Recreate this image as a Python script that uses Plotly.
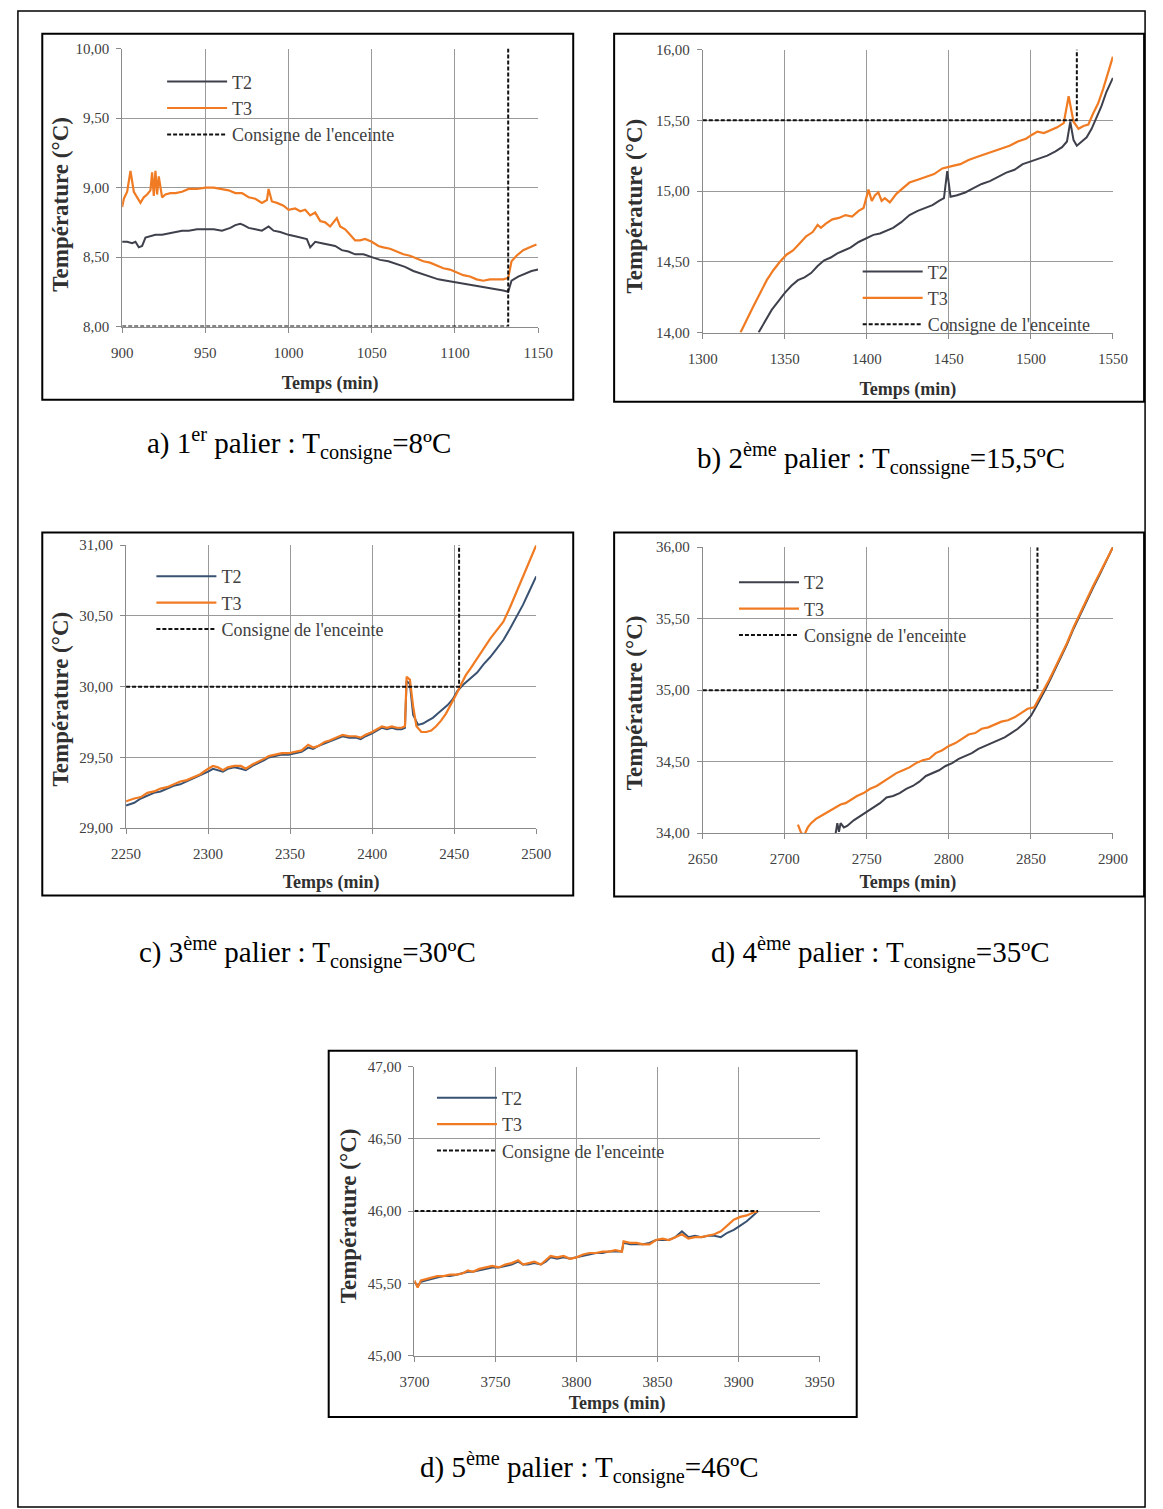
import plotly.graph_objects as go

W, H = 1163, 1509

# ---------------- data ----------------
a_t2_x = [900, 903, 906, 908, 910, 912, 914, 917, 920, 924,
          928, 932, 936, 940, 945, 950, 955, 960, 965, 968,
          971, 973, 976, 980, 984, 988, 991, 995, 1000, 1004,
          1008, 1011, 1013, 1016, 1020, 1024, 1028, 1032, 1036, 1040,
          1045, 1050, 1055, 1060, 1065, 1070, 1075, 1080, 1085, 1090,
          1095, 1100, 1105, 1110, 1115, 1120, 1125, 1129, 1132, 1134,
          1138, 1142, 1146, 1150]
a_t2_y = [8.61, 8.61, 8.60, 8.61, 8.57, 8.58, 8.64, 8.65, 8.66, 8.66,
          8.67, 8.68, 8.69, 8.69, 8.70, 8.70, 8.70, 8.69, 8.71, 8.73,
          8.74, 8.73, 8.71, 8.70, 8.69, 8.72, 8.69, 8.68, 8.66, 8.65,
          8.64, 8.63, 8.57, 8.61, 8.60, 8.59, 8.58, 8.55, 8.54, 8.52,
          8.52, 8.50, 8.48, 8.47, 8.45, 8.43, 8.40, 8.38, 8.36, 8.34,
          8.33, 8.32, 8.31, 8.30, 8.29, 8.28, 8.27, 8.26, 8.25, 8.33,
          8.36, 8.38, 8.40, 8.41]
a_t3_x = [900, 901, 903, 905, 907, 909, 911, 913, 915, 917,
          918, 919, 920, 921, 922, 924, 926, 929, 932, 936,
          940, 945, 950, 955, 960, 964, 968, 972, 976, 980,
          984, 987, 988, 990, 993, 997, 1000, 1004, 1007, 1010,
          1013, 1016, 1019, 1022, 1025, 1027, 1029, 1031, 1034, 1037,
          1040, 1043, 1046, 1050, 1054, 1057, 1061, 1065, 1069, 1073,
          1077, 1081, 1085, 1089, 1093, 1097, 1101, 1105, 1109, 1113,
          1117, 1121, 1125, 1129, 1132, 1134, 1137, 1141, 1145, 1149]
a_t3_y = [8.86, 8.92, 8.97, 9.12, 8.97, 8.93, 8.89, 8.93, 8.95, 8.98,
          9.11, 8.94, 9.12, 8.95, 9.08, 8.93, 8.95, 8.96, 8.96, 8.97,
          8.99, 8.99, 9.00, 9.00, 8.99, 8.98, 8.96, 8.96, 8.93, 8.92,
          8.89, 8.91, 8.99, 8.90, 8.89, 8.87, 8.84, 8.85, 8.83, 8.84,
          8.80, 8.82, 8.76, 8.75, 8.72, 8.75, 8.78, 8.72, 8.70, 8.66,
          8.62, 8.62, 8.63, 8.61, 8.58, 8.57, 8.56, 8.54, 8.52, 8.51,
          8.49, 8.47, 8.46, 8.44, 8.42, 8.41, 8.39, 8.37, 8.36, 8.34,
          8.33, 8.34, 8.34, 8.34, 8.35, 8.47, 8.51, 8.55, 8.57, 8.59]
a_set_x = [900, 1132, 1132]
a_set_y = [8.0, 8.0, 10.0]
a_xticks = [900, 950, 1000, 1050, 1100, 1150]
a_yticks = [8.0, 8.5, 9.0, 9.5, 10.0]
a_ylabels = ["8,00", "8,50", "9,00", "9,50", "10,00"]

b_t2_x = [1334, 1338, 1342, 1346, 1350, 1354, 1358, 1362, 1366, 1370,
          1374, 1378, 1382, 1386, 1390, 1395, 1400, 1404, 1408, 1412,
          1416, 1421, 1426, 1431, 1436, 1440, 1444, 1447, 1449, 1451,
          1455, 1460, 1465, 1470, 1475, 1480, 1485, 1490, 1495, 1500,
          1505, 1510, 1515, 1519, 1522, 1524, 1526, 1528, 1531, 1534,
          1537, 1540, 1543, 1546, 1550]
b_t2_y = [14.00, 14.08, 14.16, 14.22, 14.28, 14.33, 14.37, 14.39, 14.42, 14.47,
          14.51, 14.53, 14.56, 14.58, 14.60, 14.64, 14.67, 14.69, 14.70, 14.72,
          14.74, 14.78, 14.83, 14.86, 14.88, 14.90, 14.93, 14.95, 15.14, 14.96,
          14.97, 14.99, 15.02, 15.05, 15.07, 15.10, 15.13, 15.15, 15.19, 15.21,
          15.23, 15.25, 15.28, 15.31, 15.35, 15.49, 15.36, 15.32, 15.35, 15.38,
          15.44, 15.52, 15.60, 15.70, 15.80]
b_t3_x = [1323, 1327, 1331, 1335, 1339, 1343, 1347, 1351, 1355, 1359,
          1363, 1367, 1370, 1372, 1375, 1379, 1383, 1387, 1391, 1395,
          1398, 1401, 1403, 1405, 1407, 1409, 1411, 1414, 1418, 1422,
          1426, 1431, 1436, 1441, 1446, 1449, 1453, 1457, 1462, 1467,
          1472, 1477, 1482, 1487, 1492, 1497, 1501, 1504, 1508, 1512,
          1516, 1520, 1523, 1526, 1529, 1532, 1535, 1538, 1541, 1544,
          1547, 1550]
b_t3_y = [14.00, 14.10, 14.19, 14.28, 14.37, 14.44, 14.50, 14.55, 14.58, 14.63,
          14.68, 14.71, 14.76, 14.74, 14.77, 14.80, 14.81, 14.83, 14.82, 14.86,
          14.88, 15.01, 14.93, 14.97, 14.99, 14.93, 14.95, 14.92, 14.98, 15.02,
          15.06, 15.08, 15.10, 15.12, 15.16, 15.17, 15.18, 15.19, 15.22, 15.24,
          15.26, 15.28, 15.30, 15.32, 15.35, 15.37, 15.40, 15.42, 15.41, 15.43,
          15.45, 15.48, 15.67, 15.49, 15.44, 15.46, 15.47, 15.55, 15.62, 15.72,
          15.84, 15.95]
b_set_x = [1300, 1528, 1528]
b_set_y = [15.5, 15.5, 16.0]
b_xticks = [1300, 1350, 1400, 1450, 1500, 1550]
b_yticks = [14.0, 14.5, 15.0, 15.5, 16.0]
b_ylabels = ["14,00", "14,50", "15,00", "15,50", "16,00"]

c_t2_x = [2250, 2255, 2259, 2263, 2267, 2271, 2275, 2279, 2283, 2287,
          2291, 2295, 2300, 2303, 2306, 2309, 2312, 2316, 2320, 2323,
          2327, 2331, 2334, 2337, 2341, 2345, 2349, 2353, 2357, 2361,
          2364, 2367, 2371, 2374, 2378, 2382, 2386, 2390, 2393, 2396,
          2400, 2403, 2406, 2409, 2412, 2415, 2418, 2420, 2421, 2423,
          2425, 2428, 2431, 2434, 2437, 2440, 2443, 2446, 2449, 2452,
          2456, 2460, 2464, 2468, 2472, 2476, 2480, 2484, 2488, 2492,
          2496, 2500]
c_t2_y = [29.16, 29.18, 29.21, 29.23, 29.25, 29.26, 29.28, 29.30, 29.31, 29.33,
          29.35, 29.37, 29.40, 29.42, 29.41, 29.40, 29.42, 29.43, 29.42, 29.41,
          29.44, 29.46, 29.48, 29.50, 29.51, 29.52, 29.52, 29.53, 29.54, 29.57,
          29.56, 29.58, 29.60, 29.61, 29.63, 29.65, 29.64, 29.64, 29.63, 29.65,
          29.67, 29.69, 29.71, 29.70, 29.71, 29.70, 29.70, 29.71, 30.04, 30.02,
          29.80, 29.73, 29.74, 29.76, 29.78, 29.81, 29.84, 29.87, 29.91, 29.97,
          30.02, 30.06, 30.10, 30.16, 30.21, 30.27, 30.33, 30.41, 30.49, 30.58,
          30.68, 30.78]
c_t3_x = [2250, 2255, 2259, 2263, 2267, 2271, 2275, 2279, 2283, 2287,
          2291, 2295, 2300, 2303, 2306, 2309, 2312, 2316, 2320, 2323,
          2327, 2331, 2334, 2337, 2341, 2345, 2349, 2353, 2357, 2361,
          2364, 2367, 2371, 2374, 2378, 2382, 2386, 2390, 2393, 2396,
          2400, 2403, 2406, 2409, 2412, 2415, 2418, 2420, 2421, 2423,
          2425, 2427, 2430, 2433, 2436, 2439, 2442, 2445, 2448, 2451,
          2454, 2457, 2460, 2464, 2468, 2472, 2476, 2480, 2484, 2488,
          2492, 2496, 2500]
c_t3_y = [29.19, 29.21, 29.22, 29.25, 29.26, 29.28, 29.29, 29.31, 29.33, 29.34,
          29.36, 29.38, 29.42, 29.44, 29.43, 29.41, 29.43, 29.44, 29.44, 29.42,
          29.45, 29.47, 29.49, 29.51, 29.52, 29.53, 29.53, 29.54, 29.55, 29.59,
          29.57, 29.58, 29.61, 29.62, 29.64, 29.66, 29.65, 29.65, 29.64, 29.66,
          29.68, 29.70, 29.72, 29.71, 29.72, 29.71, 29.71, 29.72, 30.07, 30.05,
          29.86, 29.72, 29.68, 29.68, 29.69, 29.72, 29.76, 29.81, 29.87, 29.94,
          30.01, 30.08, 30.13, 30.20, 30.27, 30.34, 30.40, 30.46, 30.56, 30.67,
          30.78, 30.89, 31.00]
c_set_x = [2250, 2453, 2453]
c_set_y = [30.0, 30.0, 31.0]
c_xticks = [2250, 2300, 2350, 2400, 2450, 2500]
c_yticks = [29.0, 29.5, 30.0, 30.5, 31.0]
c_ylabels = ["29,00", "29,50", "30,00", "30,50", "31,00"]

d_t2_x = [2731, 2732, 2733, 2734, 2736, 2738, 2742, 2746, 2750, 2754,
          2758, 2762, 2766, 2770, 2774, 2778, 2782, 2786, 2790, 2794,
          2798, 2802, 2806, 2810, 2814, 2818, 2822, 2826, 2830, 2834,
          2838, 2842, 2846, 2850, 2853, 2856, 2859, 2862, 2865, 2868,
          2872, 2876, 2880, 2884, 2888, 2892, 2896, 2900]
d_t2_y = [34.00, 34.07, 34.01, 34.07, 34.04, 34.05, 34.09, 34.12, 34.15, 34.18,
          34.21, 34.25, 34.26, 34.28, 34.31, 34.33, 34.36, 34.40, 34.42, 34.44,
          34.47, 34.49, 34.52, 34.54, 34.56, 34.59, 34.61, 34.63, 34.65, 34.67,
          34.70, 34.73, 34.77, 34.82, 34.88, 34.94, 35.01, 35.08, 35.15, 35.22,
          35.32, 35.43, 35.53, 35.63, 35.72, 35.81, 35.90, 36.00]
d_t3_x = [2708, 2710, 2712, 2714, 2716, 2719, 2722, 2725, 2728, 2731,
          2734, 2737, 2740, 2744, 2748, 2752, 2756, 2760, 2764, 2768,
          2772, 2776, 2780, 2784, 2788, 2792, 2796, 2800, 2804, 2808,
          2812, 2816, 2820, 2824, 2828, 2832, 2836, 2840, 2844, 2848,
          2852, 2855, 2858, 2861, 2864, 2868, 2872, 2876, 2880, 2884,
          2888, 2892, 2896, 2900]
d_t3_y = [34.06, 34.00, 33.99, 34.04, 34.07, 34.10, 34.12, 34.14, 34.16, 34.18,
          34.20, 34.21, 34.23, 34.26, 34.28, 34.31, 34.33, 34.36, 34.39, 34.42,
          34.44, 34.46, 34.49, 34.51, 34.52, 34.56, 34.58, 34.61, 34.63, 34.66,
          34.69, 34.70, 34.73, 34.74, 34.76, 34.78, 34.79, 34.81, 34.84, 34.87,
          34.88, 34.94, 35.01, 35.07, 35.14, 35.23, 35.33, 35.44, 35.54, 35.64,
          35.73, 35.82, 35.91, 36.00]
d_set_x = [2650, 2854, 2854]
d_set_y = [35.0, 35.0, 36.0]
d_xticks = [2650, 2700, 2750, 2800, 2850, 2900]
d_yticks = [34.0, 34.5, 35.0, 35.5, 36.0]
d_ylabels = ["34,00", "34,50", "35,00", "35,50", "36,00"]

e_t2_x = [3700, 3702, 3704, 3707, 3710, 3714, 3718, 3722, 3726, 3730,
          3733, 3736, 3740, 3744, 3748, 3752, 3756, 3760, 3764, 3767,
          3770, 3774, 3778, 3781, 3784, 3788, 3792, 3796, 3800, 3804,
          3808, 3812, 3816, 3820, 3824, 3828, 3829, 3833, 3837, 3841,
          3845, 3849, 3853, 3857, 3861, 3865, 3869, 3873, 3877, 3881,
          3885, 3889, 3893, 3897, 3901, 3905, 3909, 3912]
e_t2_y = [45.51, 45.48, 45.51, 45.52, 45.53, 45.54, 45.55, 45.55, 45.56, 45.57,
          45.58, 45.58, 45.59, 45.60, 45.61, 45.61, 45.62, 45.63, 45.65, 45.63,
          45.63, 45.64, 45.63, 45.65, 45.68, 45.67, 45.68, 45.67, 45.68, 45.69,
          45.70, 45.71, 45.71, 45.72, 45.72, 45.72, 45.78, 45.77, 45.77, 45.77,
          45.78, 45.80, 45.80, 45.80, 45.82, 45.86, 45.82, 45.83, 45.82, 45.83,
          45.83, 45.82, 45.85, 45.87, 45.90, 45.93, 45.97, 46.00]
e_t3_x = [3700, 3702, 3704, 3707, 3710, 3714, 3718, 3722, 3726, 3730,
          3733, 3736, 3740, 3744, 3748, 3752, 3756, 3760, 3764, 3767,
          3770, 3774, 3778, 3781, 3784, 3788, 3792, 3796, 3800, 3804,
          3808, 3812, 3816, 3820, 3824, 3828, 3829, 3833, 3837, 3841,
          3845, 3849, 3853, 3857, 3861, 3865, 3869, 3873, 3877, 3881,
          3885, 3889, 3893, 3897, 3901, 3905, 3909, 3912]
e_t3_y = [45.52, 45.47, 45.52, 45.53, 45.54, 45.55, 45.55, 45.56, 45.56, 45.57,
          45.59, 45.58, 45.60, 45.61, 45.62, 45.61, 45.63, 45.64, 45.66, 45.63,
          45.64, 45.65, 45.63, 45.66, 45.69, 45.68, 45.69, 45.67, 45.68, 45.70,
          45.71, 45.71, 45.72, 45.72, 45.73, 45.72, 45.79, 45.78, 45.78, 45.77,
          45.77, 45.80, 45.81, 45.80, 45.82, 45.84, 45.81, 45.82, 45.82, 45.83,
          45.84, 45.86, 45.90, 45.94, 45.96, 45.97, 45.99, 46.00]
e_set_x = [3700, 3912]
e_set_y = [46.0, 46.0]
e_xticks = [3700, 3750, 3800, 3850, 3900, 3950]
e_yticks = [45.0, 45.5, 46.0, 46.5, 47.0]
e_ylabels = ["45,00", "45,50", "46,00", "46,50", "47,00"]

series_names = ["T2", "T3", "Consigne de l'enceinte"]
captions = [
    "a) 1<sup>er</sup> palier : T<sub>consigne</sub>=8ºC",
    "b) 2<sup>ème</sup> palier : T<sub>conssigne</sub>=15,5ºC",
    "c) 3<sup>ème</sup> palier : T<sub>consigne</sub>=30ºC",
    "d) 4<sup>ème</sup> palier : T<sub>consigne</sub>=35ºC",
    "d) 5<sup>ème</sup> palier : T<sub>consigne</sub>=46ºC",
]
x_title = "Temps (min)"
y_title = "Température (°C)"

SERIF = "Liberation Serif, Times New Roman, serif"
T3_COLOR = "#f07b22"
panels = [
    dict(data=(a_t2_x, a_t2_y, a_t3_x, a_t3_y, a_set_x, a_set_y),
         xt=a_xticks, yt=a_yticks, yl=a_ylabels,
         plot=(110, 537, 41, 322), box=(28, 573, 26, 396), xstand=16,
         leg=(151, 56), cap=(292, 440), ytit=(47, 198), t2c="#3e404c"),
    dict(data=(b_t2_x, b_t2_y, b_t3_x, b_t3_y, b_set_x, b_set_y),
         xt=b_xticks, yt=b_yticks, yl=b_ylabels,
         plot=(706, 1127, 42, 328), box=(615, 1159, 26, 398), xstand=16,
         leg=(865, 248), cap=(889, 455), ytit=(636, 200), t2c="#3e404c"),
    dict(data=(c_t2_x, c_t2_y, c_t3_x, c_t3_y, c_set_x, c_set_y),
         xt=c_xticks, yt=c_yticks, yl=c_ylabels,
         plot=(114, 535, 543, 829), box=(28, 573, 530, 897), xstand=14,
         leg=(140, 556), cap=(300, 955), ytit=(47, 698), t2c="#3a5272"),
    dict(data=(d_t2_x, d_t2_y, d_t3_x, d_t3_y, d_set_x, d_set_y),
         xt=d_xticks, yt=d_yticks, yl=d_ylabels,
         plot=(706, 1127, 545, 834), box=(615, 1159, 530, 898), xstand=9,
         leg=(738, 562), cap=(888, 955), ytit=(636, 702), t2c="#3e404c"),
    dict(data=(e_t2_x, e_t2_y, e_t3_x, e_t3_y, e_set_x, e_set_y),
         xt=e_xticks, yt=e_yticks, yl=e_ylabels,
         plot=(410, 826, 1070, 1362), box=(322, 864, 1054, 1424), xstand=7,
         leg=(428, 1083), cap=(590, 1475), ytit=(342, 1221), t2c="#3a5272"),
]


def px(x):
    return x / W


def py(y):
    return 1 - y / H


fig = go.Figure()
layout = dict(
    width=W, height=H, margin=dict(l=0, r=0, t=0, b=0),
    paper_bgcolor="white", plot_bgcolor="white",
    font=dict(family=SERIF, color="#404040"),
    shapes=[], annotations=[],
)

for i, p in enumerate(panels, start=1):
    t2x, t2y, t3x, t3y, sx, sy = p["data"]
    xa = "x" if i == 1 else f"x{i}"
    ya = "y" if i == 1 else f"y{i}"
    lg = "legend" if i == 1 else f"legend{i}"
    common = dict(xaxis=xa, yaxis=ya, legend=lg, mode="lines", hoverinfo="skip")
    fig.add_trace(go.Scatter(x=t2x, y=t2y, name=series_names[0], legendgroup=f"g{i}a",
                             line=dict(color=p["t2c"], width=2), **common))
    fig.add_trace(go.Scatter(x=t3x, y=t3y, name=series_names[1], legendgroup=f"g{i}b",
                             line=dict(color=T3_COLOR, width=2.2), **common))
    fig.add_trace(go.Scatter(x=sx, y=sy, name=series_names[2], legendgroup=f"g{i}c",
                             line=dict(color="#111111", width=2, dash="4px,2px"), **common))

    l, r, t, b = p["plot"]
    xt = p["xt"]
    yt = p["yt"]
    xkey = "xaxis" if i == 1 else f"xaxis{i}"
    ykey = "yaxis" if i == 1 else f"yaxis{i}"
    layout[xkey] = dict(
        domain=[px(l), px(r)], anchor=ya, range=[xt[0], xt[-1]],
        tickvals=xt, ticktext=[str(v) for v in xt],
        showgrid=True, gridcolor="#9a9a9a", gridwidth=1,
        showline=True, linecolor="#8a8a8a", linewidth=1,
        ticks="outside", ticklen=5, tickcolor="#8a8a8a",
        ticklabelstandoff=7,
        tickfont=dict(family=SERIF, size=15, color="#404040"),
        zeroline=False, fixedrange=True,
        title=dict(text=f"<b>{x_title}</b>", standoff=p["xstand"],
                   font=dict(family=SERIF, size=18, color="#303030")),
    )
    layout[ykey] = dict(
        domain=[py(b), py(t)], anchor=xa, range=[yt[0], yt[-1]],
        tickvals=yt, ticktext=p["yl"],
        showgrid=True, gridcolor="#9a9a9a", gridwidth=1,
        showline=True, linecolor="#8a8a8a", linewidth=1,
        ticks="outside", ticklen=5, tickcolor="#8a8a8a",
        ticklabelstandoff=4,
        tickfont=dict(family=SERIF, size=15, color="#404040"),
        zeroline=False, fixedrange=True,
    )
    lx, ly = p["leg"]
    layout[lg] = dict(
        x=px(lx), y=py(ly), xanchor="left", yanchor="top",
        bgcolor="rgba(0,0,0,0)", borderwidth=0,
        font=dict(family=SERIF, size=18, color="#404040"),
        tracegroupgap=1, itemwidth=60, traceorder="normal",
    )
    bl, br, bt, bb = p["box"]
    layout["shapes"].append(dict(
        type="rect", xref="paper", yref="paper",
        x0=px(bl), x1=px(br), y0=py(bb), y1=py(bt),
        line=dict(color="black", width=2), fillcolor="rgba(0,0,0,0)", layer="above"))
    tx, ty = p["ytit"]
    layout["annotations"].append(dict(
        text=f"<b>{y_title}</b>", xref="paper", yref="paper",
        x=px(tx), y=py(ty), xanchor="center", yanchor="middle", showarrow=False,
        textangle=-90, font=dict(family=SERIF, size=23, color="#303030")))
    cx, cy = p["cap"]
    layout["annotations"].append(dict(
        text=captions[i - 1], xref="paper", yref="paper",
        x=px(cx), y=py(cy), xanchor="center", yanchor="middle", showarrow=False,
        font=dict(family=SERIF, size=29, color="black")))

# outer frame
layout["shapes"].append(dict(
    type="rect", xref="paper", yref="paper",
    x0=px(3), x1=px(1160), y0=py(1515), y1=py(3),
    line=dict(color="black", width=1.5), fillcolor="rgba(0,0,0,0)"))

fig.update_layout(**layout)
fig.write_html(
    "out.html",
    post_script="document.body.style.margin='0';document.body.style.overflow='hidden';",
)
